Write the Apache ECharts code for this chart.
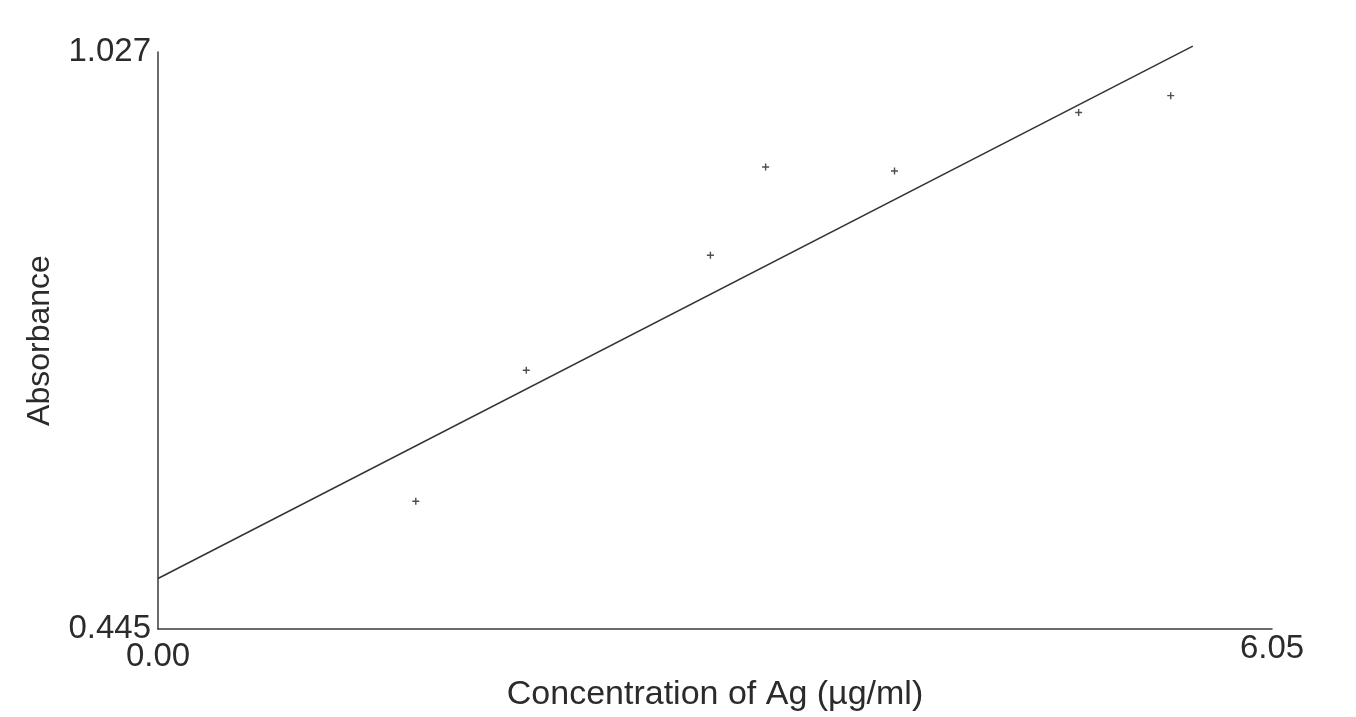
<!DOCTYPE html>
<html>
<head>
<meta charset="utf-8">
<script src="https://cdn.jsdelivr.net/npm/echarts@6/dist/echarts.min.js"></script>
<style>
  html, body { margin: 0; padding: 0; background: #fff; }
  #chart { width: 1356px; height: 717px; }
</style>
</head>
<body>
<div id="chart"></div>
<script>
// measured standards (concentration, absorbance)
const concentrations = [1.4, 2.0, 3.0, 3.3, 4.0, 5.0, 5.5]
const absorbances = [0.574, 0.706, 0.822, 0.911, 0.907, 0.966, 0.983]

// calibration line end points
const fitX = [0, 5.62]
const fitY = [0.496, 1.033]

const xTicks = [0, 6.05]
const yTicks = [0.445, 1.027]

const points = concentrations.map((c, i) => [c, absorbances[i]])
const fitLine = fitX.map((x, i) => [x, fitY[i]])

const chart = echarts.init(document.getElementById("chart"))
const font = "Liberation Sans, Arial, sans-serif"

chart.setOption({
  backgroundColor: "#ffffff",
  animation: false,
  grid: { left: 158, right: 84, top: 52, bottom: 84 },
  xAxis: {
    type: "value",
    min: xTicks[0],
    max: xTicks[1],
    name: "Concentration of Ag (\u00b5g/ml)",
    nameLocation: "middle",
    nameGap: 42,
    nameTextStyle: { fontFamily: font, fontSize: 34, color: "#2b2b2b" },
    axisLine: { show: true, onZero: false, lineStyle: { color: "#3a3a3a", width: 1.5 } },
    axisTick: { show: false },
    splitLine: { show: false },
    axisLabel: {
      customValues: xTicks,
      margin: 3,
      formatter: v => (v === 0 ? "{a|" : "{b|") + v.toFixed(2) + "}",
      rich: {
        a: { fontFamily: font, fontSize: 33, color: "#2b2b2b", padding: [8, 0, 0, 0] },
        b: { fontFamily: font, fontSize: 33, color: "#2b2b2b", padding: [0, 0, 0, 0] }
      }
    }
  },
  yAxis: {
    type: "value",
    min: yTicks[0],
    max: yTicks[1],
    name: "Absorbance",
    nameLocation: "middle",
    nameGap: 102,
    nameTextStyle: { fontFamily: font, fontSize: 32, color: "#2b2b2b" },
    axisLine: { show: true, onZero: false, lineStyle: { color: "#3a3a3a", width: 1.5 } },
    axisTick: { show: false },
    splitLine: { show: false },
    axisLabel: {
      customValues: yTicks,
      margin: 7,
      fontFamily: font,
      fontSize: 33,
      color: "#2b2b2b",
      formatter: v => v.toFixed(3)
    }
  },
  series: [
    {
      type: "line",
      data: fitLine,
      showSymbol: false,
      clip: false,
      lineStyle: { color: "#333", width: 1.5 }
    },
    {
      type: "scatter",
      data: points,
      symbol: "path://M2,0H3V2H5V3H3V5H2V3H0V2H2Z",
      symbolSize: 7,
      itemStyle: { color: "#222" }
    }
  ]
})
</script>
</body>
</html>
